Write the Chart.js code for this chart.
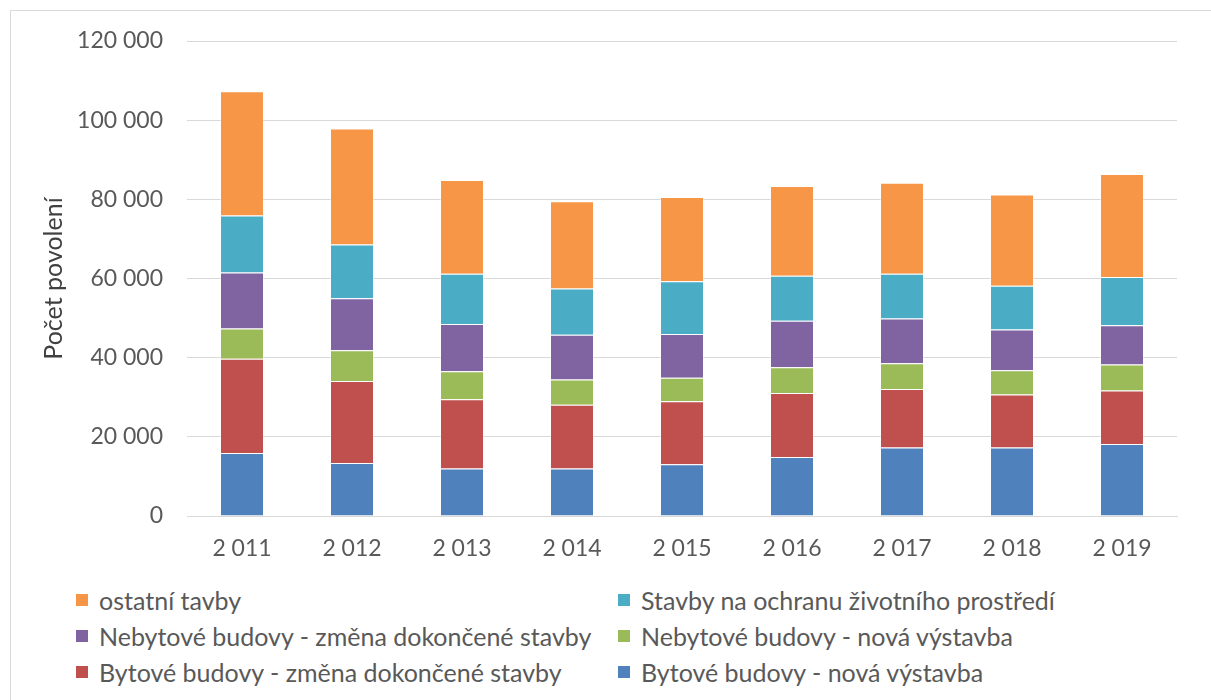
<!DOCTYPE html>
<html>
<head>
<meta charset="utf-8">
<script src="https://cdn.jsdelivr.net/npm/chart.js@4/dist/chart.umd.min.js"></script>
<style>
    body { margin: 0; background: #fff; font-family: Lato, sans-serif; }
    #frame { position: absolute; left: 10px; top: 10px; width: 1230px; height: 720px; border: 1px solid #d9d9d9; }
    #wrap { position: absolute; left: 0; top: 0; width: 1211px; height: 580px; }
    #legend { position: absolute; left: 76px; top: 582px; width: 1100px; display: grid;
        grid-template-columns: 542px 540px; font-size: 25px; color: #595959; }
    #legend div { height: 36px; display: flex; align-items: center; }
    #legend span.box { width: 12px; height: 12px; margin-right: 11px; flex: none; }
</style>
</head>
<body>
<div id="frame"></div>
<div id="wrap"><canvas id="myChart"></canvas></div>
<div id="legend"></div>
<script>
const years = ['2 011', '2 012', '2 013', '2 014', '2 015', '2 016', '2 017', '2 018', '2 019'];
const bytoveNova = [15900, 13400, 12000, 12000, 13100, 14900, 17300, 17300, 18200];
const bytoveZmena = [23800, 20700, 17500, 16100, 15900, 16200, 14800, 13400, 13500];
const nebytoveNova = [7700, 7800, 7100, 6400, 5900, 6500, 6500, 6100, 6600];
const nebytoveZmena = [14100, 13100, 11900, 11300, 11100, 11700, 11300, 10300, 9900];
const ochrana = [14400, 13600, 12700, 11700, 13300, 11400, 11300, 11100, 12200];
const ostatni = [31400, 29300, 23700, 22000, 21300, 22700, 23000, 23000, 26000];

const yTicks = [0, 20000, 40000, 60000, 80000, 100000, 120000];

const textColor = '#595959';
const fontFamily = 'Lato, sans-serif';

/**
 * Thousands with a space
 * @param {Number} value
 * @returns {String}
 */
function formatNumber(value) {
    return String(value).replace(/\B(?=(\d{3})+(?!\d))/g, ' ');
}

let datasets = [
    { label: 'Bytové budovy - nová výstavba', data: bytoveNova, backgroundColor: '#4F81BD' },
    { label: 'Bytové budovy - změna dokončené stavby', data: bytoveZmena, backgroundColor: '#C0504D' },
    { label: 'Nebytové budovy - nová výstavba', data: nebytoveNova, backgroundColor: '#9BBB59' },
    { label: 'Nebytové budovy - změna dokončené stavby', data: nebytoveZmena, backgroundColor: '#8064A2' },
    { label: 'Stavby na ochranu životního prostředí', data: ochrana, backgroundColor: '#4BACC6' },
    { label: 'ostatní tavby', data: ostatni, backgroundColor: '#F79646' }
];

for (let ds of datasets) {
    ds.borderColor = 'rgba(255,255,255,0.35)';
    ds.borderWidth = 1;
    ds.barPercentage = 0.4;
    ds.categoryPercentage = 1;
}

let ctx = document.getElementById('myChart').getContext('2d');
let myChart = new Chart(ctx, {
    type: 'bar',
    data: { labels: years, datasets: datasets },
    options: {
        responsive: true,
        maintainAspectRatio: false,
        animation: false,
        layout: { padding: { left: 10, right: 34, top: 41, bottom: 0 } },
        plugins: {
            legend: { display: false },
            tooltip: { enabled: false }
        },
        scales: {
            x: {
                stacked: true,
                grid: { display: false, drawTicks: false },
                border: { display: true, color: '#d9d9d9', width: 1 },
                ticks: { color: textColor, font: { family: fontFamily, size: 23 }, padding: 19 },
                afterFit: function (scale) { scale.height = 64; }
            },
            y: {
                stacked: true,
                min: 0,
                max: 120000,
                afterBuildTicks: function (scale) {
                    scale.ticks = yTicks.map(function (v) { return { value: v }; });
                },
                grid: { color: '#d9d9d9', drawTicks: false },
                border: { display: false },
                ticks: {
                    color: textColor,
                    font: { family: fontFamily, size: 23 },
                    padding: 24,
                    callback: function (value) { return formatNumber(value); }
                },
                title: {
                    display: true,
                    text: 'Počet povolení',
                    color: '#404040',
                    font: { family: fontFamily, size: 25 },
                    padding: { top: 29, bottom: 0 }
                },
                afterFit: function (scale) { scale.width = 177; }
            }
        }
    }
});

// legend in two columns, reversed order like the source
let legend = document.getElementById('legend');
for (let ds of datasets.slice().reverse()) {
    let item = document.createElement('div');
    let box = document.createElement('span');
    box.className = 'box';
    box.style.background = ds.backgroundColor;
    let label = document.createElement('span');
    label.innerText = ds.label;
    item.appendChild(box);
    item.appendChild(label);
    legend.appendChild(item);
}
</script>
</body>
</html>
